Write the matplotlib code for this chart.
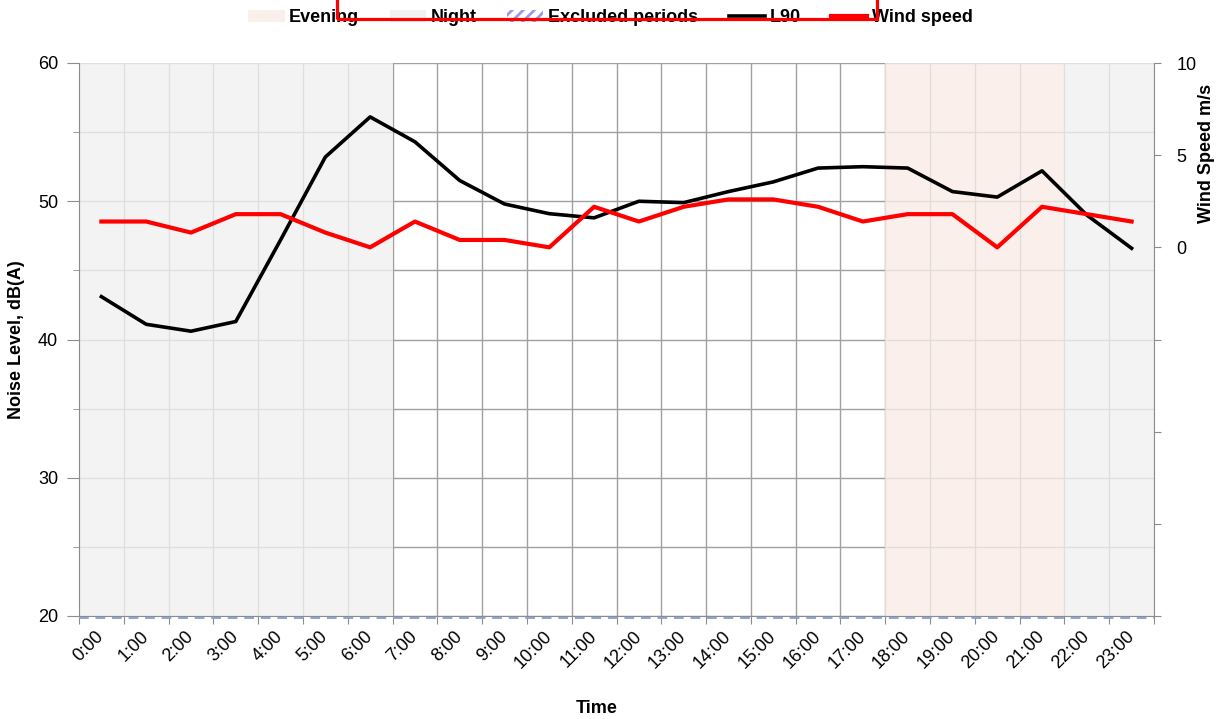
import matplotlib
matplotlib.use("Agg")
import matplotlib.pyplot as plt
import matplotlib.transforms as mtransforms
import numpy as np
from matplotlib.patches import Patch, Rectangle
from matplotlib.lines import Line2D

plt.rcParams['font.family'] = ['Liberation Sans', 'DejaVu Sans']
plt.rcParams['font.size'] = 13
plt.rcParams['hatch.linewidth'] = 2.0

# Data
hours = ['%d:00' % h for h in range(24)]
l90 = [43.1, 41.1, 40.6, 41.3, 47.2, 53.2, 56.1, 54.3, 51.5, 49.8, 49.1, 48.8,
       50.0, 49.9, 50.7, 51.4, 52.4, 52.5, 52.4, 50.7, 50.3, 52.2, 49.0, 46.6]
wind = [1.4, 1.4, 0.8, 1.8, 1.8, 0.8, 0.0, 1.4, 0.4, 0.4, 0.0, 2.2,
        1.4, 2.2, 2.6, 2.6, 2.2, 1.4, 1.8, 1.8, 0.0, 2.2, 1.8, 1.4]
night_periods = [(0, 7), (22, 24)]
evening_periods = [(18, 22)]

night_col = '#f0f0f0'
evening_col = '#f9ece6'
grid_col = '#a0a0a0'
spine_col = '#8c8c8c'

fig = plt.figure(figsize=(12.21, 7.19), dpi=100)
ax = fig.add_axes([79 / 1221, 1 - 616 / 719, 1075 / 1221, 553 / 719])
ax2 = ax.twinx()

x = np.arange(len(hours)) + 0.5

# shaded periods (semi-transparent so the grid shows through faintly)
for a, b in night_periods:
    ax.axvspan(a, b, color=night_col, alpha=0.8, lw=0, zorder=1)
for a, b in evening_periods:
    ax.axvspan(a, b, color=evening_col, alpha=0.8, lw=0, zorder=1)

ax.plot(x, l90, color='black', lw=2.6, zorder=3)
# excluded periods marker line, just under the bottom spine
shift = mtransforms.offset_copy(ax.transData, fig=fig, x=0, y=-1.5, units='dots')
ax.plot([0, 24], [20, 20], color='#8ea3d6', lw=1.4, dashes=(5, 3.5),
        transform=shift, zorder=4, clip_on=False)
ax2.plot(x, wind, color='#ff0000', lw=3.0, zorder=3)

# left axis
ax.set_xlim(0, 24)
ax.set_ylim(20, 60)
ax.set_yticks(np.arange(20, 61, 10))
ax.set_yticks(np.arange(20, 61, 5), minor=True)
ax.set_xticks(np.arange(25))
ax.set_xticklabels([])
ax.set_xticks(x, minor=True)
ax.set_xticklabels(hours, minor=True, rotation=45, ha='right',
                   rotation_mode='anchor', va='center')
ax.tick_params(axis='x', which='major', length=6, color=spine_col)
ax.tick_params(axis='x', which='minor', length=0, pad=13)
ax.tick_params(axis='y', which='major', length=9, color=spine_col, pad=6)
ax.tick_params(axis='y', which='minor', length=4, color=spine_col)
ax.set_axisbelow(True)
ax.grid(axis='x', which='major', color=grid_col, lw=1.0)
ax.grid(axis='y', which='both', color=grid_col, lw=1.0)
for s in ['top', 'right']:
    ax.spines[s].set_visible(False)
for s in ['left', 'bottom']:
    ax.spines[s].set_color(spine_col)

ax.set_xlabel('Time', fontweight='bold')
ax.xaxis.set_label_coords(0.482, -0.152)
ax.set_ylabel('Noise Level, dB(A)', fontweight='bold')
ax.yaxis.set_label_coords(-0.05, 0.5)

# right axis
ax2.set_ylim(-20, 10)
ax2.set_yticks(np.arange(-20, 11, 5))
ax2.set_yticklabels([str(v) if v >= 0 else '' for v in range(-20, 11, 5)])
ax2.tick_params(axis='y', length=5, color=spine_col, pad=11)
for s in ['top', 'left', 'bottom']:
    ax2.spines[s].set_visible(False)
ax2.spines['right'].set_color(spine_col)
ax2.set_ylabel('Wind Speed m/s', fontweight='bold')
ax2.yaxis.set_label_coords(1.041, 0.836)

# legend
handles = [
    Patch(facecolor='#faf0eb', edgecolor='none', label='Evening'),
    Patch(facecolor='#f2f2f2', edgecolor='none', label='Night'),
    Patch(facecolor='white', edgecolor='#9a9ae8', hatch='///', lw=0, label='Excluded periods'),
    Line2D([], [], color='black', lw=2.6, label='L90'),
    Line2D([], [], color='#ff0000', lw=3.0, label='Wind speed'),
]
fig.legend(handles=handles, loc='center', bbox_to_anchor=(0.5, 0.975), ncol=5,
           frameon=False, prop={'weight': 'bold', 'size': 13},
           handlelength=2.0, handleheight=0.6, handletextpad=0.25, columnspacing=1.7)

# red box at the top edge
box = Rectangle((337 / 1221, 1 - 19 / 719), (877 - 337) / 1221, 0.1,
                transform=fig.transFigure, fill=False, edgecolor='#ff0000',
                lw=2.3, clip_on=False, zorder=10)
fig.add_artist(box)

fig.savefig('out.png', dpi=100)
